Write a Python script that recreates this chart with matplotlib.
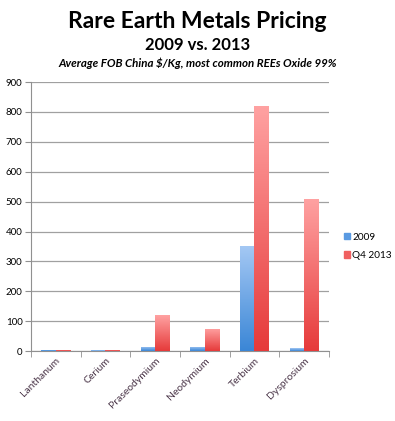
import numpy as np
import matplotlib
matplotlib.use("Agg")
import matplotlib.pyplot as plt
from matplotlib.colors import LinearSegmentedColormap

metals = ["Lanthanum", "Cerium", "Praseodymium", "Neodymium", "Terbium", "Dysprosium"]
price_2009 = [5, 3, 14, 15, 350, 10]
price_q4_2013 = [5, 5, 120, 75, 820, 510]
series_names = ["2009", "Q4 2013"]
yticks = [0, 100, 200, 300, 400, 500, 600, 700, 800, 900]

plt.rcParams['font.family'] = ['Lato', 'DejaVu Sans']

fig = plt.figure(figsize=(3.95, 4.21), dpi=100)
ax = fig.add_axes([0.078, 0.166, 0.755, 0.639])

blue_cm = LinearSegmentedColormap.from_list("b", ["#3a86d6", "#a4c8f4"])
red_cm = LinearSegmentedColormap.from_list("r", ["#e63a3a", "#ffa2a2"])

x = np.arange(len(metals))
w = 0.29
grad = np.linspace(0, 1, 256).reshape(-1, 1)

def grad_bars(xs, vals, cmap):
    bars = ax.bar(xs, vals, w, color=cmap(0.5), linewidth=0, zorder=2)
    for b in bars:
        x0, h = b.get_x(), b.get_height()
        im = ax.imshow(grad, cmap=cmap, origin="lower", aspect="auto",
                       extent=[x0, x0 + w, 0, max(h, 1e-6)], zorder=3)
        im.set_clip_path(b)
    return bars

grad_bars(x - w / 2, price_2009, blue_cm)
grad_bars(x + w / 2, price_q4_2013, red_cm)

ax.set_xlim(-0.5, len(metals) - 0.5)
ax.set_ylim(0, 900)
ax.set_yticks(yticks)
ax.yaxis.grid(True, color="#a0a0a0", linewidth=0.9)
ax.set_axisbelow(True)
for s in ["top", "right"]:
    ax.spines[s].set_visible(False)
ax.spines["left"].set_color("#909090")
ax.spines["bottom"].set_color("#909090")
ax.tick_params(axis="y", length=4, color="#909090", labelsize=7, pad=2)
ax.tick_params(axis="x", which="both", length=0)

# category boundary ticks
ax.set_xticks(np.arange(-0.5, len(metals)), minor=True)
ax.tick_params(axis="x", which="minor", length=4, color="#909090")
ax.set_xticks(x)
ax.set_xticklabels(metals, rotation=45, ha="right", va="top",
                   rotation_mode="anchor", fontsize=7.5, color="#4a3548")

# legend
h1 = plt.Rectangle((0, 0), 1, 1, color="#5a9ae2")
h2 = plt.Rectangle((0, 0), 1, 1, color="#f06060")
fig.legend([h1, h2], series_names, loc="center left",
           bbox_to_anchor=(0.865, 0.415), frameon=False, fontsize=7.2,
           handlelength=0.6, handleheight=0.6, handletextpad=0.25,
           labelspacing=0.95, borderaxespad=0, borderpad=0.2)

fig.text(0.5, 0.948, "Rare Earth Metals Pricing", ha="center", va="center",
         fontsize=16.5, fontweight="bold")
fig.text(0.5, 0.893, "2009 vs. 2013", ha="center", va="center",
         fontsize=12, fontweight="bold")
fig.text(0.5, 0.85, "Average FOB China $/Kg, most common REEs Oxide 99%",
         ha="center", va="center", fontsize=8.3, fontweight="bold", style="italic")

fig.savefig("out.png", dpi=100)
